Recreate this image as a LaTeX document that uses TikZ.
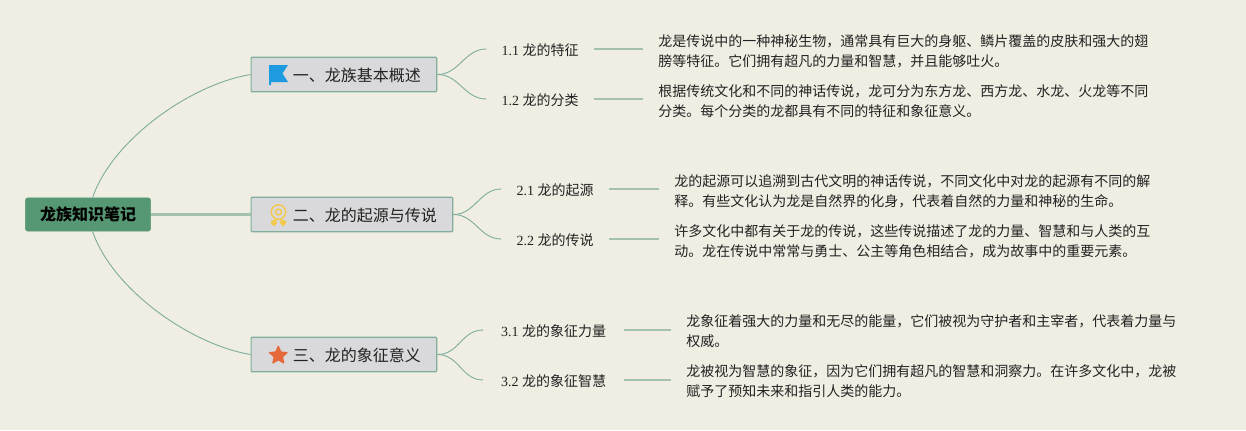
\documentclass[tikz,border=0pt]{standalone}
\usepackage{fontspec}
\setmainfont{Liberation Serif}
\newfontfamily\cjk{Noto Sans CJK SC}
\usetikzlibrary{shapes.geometric}
\definecolor{paper}{HTML}{F0EEE3}
\definecolor{rootgreen}{HTML}{569874}
\definecolor{boxgrey}{HTML}{D9D9DB}
\definecolor{linegreen}{HTML}{7FAE9C}
\definecolor{palegreen}{HTML}{A3C2AE}
\definecolor{ink}{HTML}{222222}
\definecolor{flagblue}{HTML}{1E9BE0}
\definecolor{medalyellow}{HTML}{F2C94C}
\definecolor{starorange}{HTML}{E5683A}
\tikzset{
  rootbox/.style={draw=rootgreen,fill=rootgreen,rounded corners=2pt,minimum width=94pt,minimum height=25pt,inner sep=0pt,text=black,font=\cjk\fontsize{12}{14}\selectfont\bfseries},
  topicbox/.style={draw=linegreen,fill=boxgrey,line width=0.9pt,rounded corners=0.8pt,minimum height=26pt,inner ysep=0pt,inner xsep=12pt,text height=11.7pt,text depth=1pt,text=ink,font=\cjk\fontsize{12}{14}\selectfont},
  subtopic/.style={minimum width=80pt,minimum height=14pt,inner sep=0pt,text height=10pt,text depth=0.5pt,text=ink,font=\fontsize{10.5}{14}\selectfont},
  bodytext/.style={align=left,anchor=west,inner xsep=11.25pt,inner ysep=0pt,text=ink,font=\cjk\fontsize{10.5}{15}\selectfont},
  branch/.style={draw=linegreen,line width=0.7pt},
  leadline/.style={draw=palegreen,line width=1.6pt}
}
\begin{document}
\begin{tikzpicture}[x=0.75pt,y=-0.75pt]
    \fill[paper] (0,0) rectangle (1246,430);
    \useasboundingbox (0,0) rectangle (1246,430);

    \node[rootbox] (root) at (88,214.5) {龙族知识笔记};
    \node[topicbox,anchor=west] (topicA) at (250.5,74.5) {\hspace*{19.25pt}一、龙族基本概述};
    \node[topicbox,anchor=west] (topicB) at (250.5,214.5) {\hspace*{19.25pt}二、龙的起源与传说};
    \node[topicbox,anchor=west] (topicC) at (250.5,354.5) {\hspace*{19.25pt}三、龙的象征意义};

    \node[subtopic] (subAa) at (540,49) {1.1 {\cjk 龙的特征}};
    \node[subtopic] (subAb) at (540,99) {1.2 {\cjk 龙的分类}};
    \node[subtopic] (subBa) at (555,189) {2.1 {\cjk 龙的起源}};
    \node[subtopic] (subBb) at (555,239) {2.2 {\cjk 龙的传说}};
    \node[subtopic,minimum width=105pt] (subCa) at (553.5,330) {3.1 {\cjk 龙的象征力量}};
    \node[subtopic,minimum width=105pt] (subCb) at (553.5,380) {3.2 {\cjk 龙的象征智慧}};

    \node[bodytext] (bodyAa) at (643,51.5) {龙是传说中的一种神秘生物，通常具有巨大的身躯、鳞片覆盖的皮肤和强大的翅\\膀等特征。它们拥有超凡的力量和智慧，并且能够吐火。};
    \node[bodytext] (bodyAb) at (643,101.5) {根据传统文化和不同的神话传说，龙可分为东方龙、西方龙、水龙、火龙等不同\\分类。每个分类的龙都具有不同的特征和象征意义。};
    \node[bodytext] (bodyBa) at (659,191.5) {龙的起源可以追溯到古代文明的神话传说，不同文化中对龙的起源有不同的解\\释。有些文化认为龙是自然界的化身，代表着自然的力量和神秘的生命。};
    \node[bodytext] (bodyBb) at (659,241.5) {许多文化中都有关于龙的传说，这些传说描述了龙的力量、智慧和与人类的互\\动。龙在传说中常常与勇士、公主等角色相结合，成为故事中的重要元素。};
    \node[bodytext] (bodyCa) at (671,331.5) {龙象征着强大的力量和无尽的能量，它们被视为守护者和主宰者，代表着力量与\\权威。};
    \node[bodytext] (bodyCb) at (671,381.5) {龙被视为智慧的象征，因为它们拥有超凡的智慧和洞察力。在许多文化中，龙被\\赋予了预知未来和指引人类的能力。};

    % main branches
    \draw[branch] (root.75) .. controls +(20,-58) and +(-60,10) .. (topicA.west);
    \draw[branch] (root.-75) .. controls +(20,58) and +(-60,-10) .. (topicC.west);
    \draw[leadline] (root.east) -- (topicB.west);

    \draw[branch] (topicA.east) .. controls +(22,0) and +(-22,0) .. (subAa.west);
    \draw[branch] (topicA.east) .. controls +(22,0) and +(-22,0) .. (subAb.west);
    \draw[branch] (topicB.east) .. controls +(22,0) and +(-22,0) .. (subBa.west);
    \draw[branch] (topicB.east) .. controls +(22,0) and +(-22,0) .. (subBb.west);
    \draw[branch] (topicC.east) .. controls +(22,0) and +(-22,0) .. (subCa.west);
    \draw[branch] (topicC.east) .. controls +(22,0) and +(-22,0) .. (subCb.west);

    \draw[leadline] (subAa.east) -- (subAa.east -| bodyAa.west);
    \draw[leadline] (subAb.east) -- (subAb.east -| bodyAb.west);
    \draw[leadline] (subBa.east) -- (subBa.east -| bodyBa.west);
    \draw[leadline] (subBb.east) -- (subBb.east -| bodyBb.west);
    \draw[leadline] (subCa.east) -- (subCa.east -| bodyCa.west);
    \draw[leadline] (subCb.east) -- (subCb.east -| bodyCb.west);

    % icons
    \fill[flagblue] (269,65) -- (288,65) -- (282.5,73.5) -- (288,82) -- (271,82) -- (271,85) -- (269,85) -- cycle;
    \draw[medalyellow,line width=1.1pt] (278.5,212) circle (7.2);
    \draw[medalyellow,line width=1.1pt] (278.5,212) circle (3);
    \fill[medalyellow] (271,221) -- (276,219) -- (277,223) -- (274,226) -- (271,224) -- cycle;
    \fill[medalyellow] (286,221) -- (281,219) -- (280,223) -- (283,226) -- (286,224) -- cycle;
    \node[star,star points=5,star point ratio=2.1,draw=starorange,fill=starorange,line join=round,line width=0.8pt,minimum size=14pt,inner sep=0pt] (iconC) at (278.3,355.5) {};
\end{tikzpicture}
\end{document}
